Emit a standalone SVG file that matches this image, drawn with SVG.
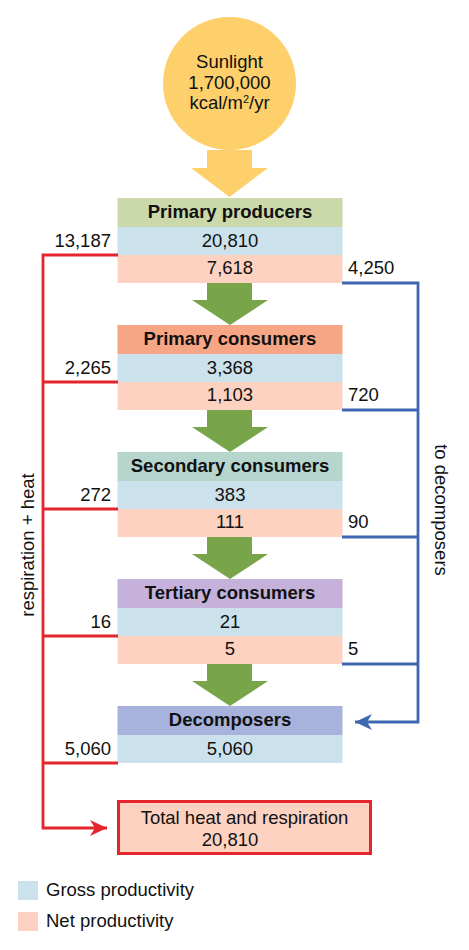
<svg xmlns="http://www.w3.org/2000/svg" width="469" height="950" viewBox="0 0 469 950">
<defs>
<style>
text{font-family:"Liberation Sans",Arial,sans-serif;font-size:18.5px;fill:#111}
.h{font-weight:bold;text-anchor:middle}
.c{text-anchor:middle}
.r{text-anchor:end}
.gross{fill:#cbe2ec}
.net{fill:#fdd2c1}
.red{stroke:#e4252d;stroke-width:2.8;fill:none}
.blue{stroke:#3f67b1;stroke-width:2.8;fill:none}
.green{fill:#78a549}
</style>
<marker id="ab" markerUnits="userSpaceOnUse" markerWidth="20" markerHeight="20" viewBox="-18 -10 20 20" refX="0" refY="0" orient="auto">
<path d="M0,0 L-17,-8 L-12,0 L-17,8 Z" fill="#3f67b1"/>
</marker>
<marker id="ar" markerUnits="userSpaceOnUse" markerWidth="20" markerHeight="20" viewBox="-18 -10 20 20" refX="0" refY="0" orient="auto">
<path d="M0,0 L-17,-8 L-12,0 L-17,8 Z" fill="#e4252d"/>
</marker>
</defs>

<g id="sunlight">
<circle cx="229.5" cy="83.5" r="66.5" fill="#fdd06b"/>
<text class="c" x="229.5" y="68">Sunlight</text>
<text class="c" x="229.5" y="89">1,700,000</text>
<text class="c" x="229.5" y="109">kcal/m<tspan font-size="11" dy="-6">2</tspan><tspan dy="6">/yr</tspan></text>
<path d="M207,150 H252 V168 H268 L229.5,197 L191,168 H207 Z" fill="#fdd06b"/>
</g>

<g id="primary-producers">
<rect x="117.5" y="198" width="225" height="29" fill="#cbd8aa"/>
<rect class="gross" x="117.5" y="227" width="225" height="28"/>
<rect class="net" x="117.5" y="255" width="225" height="28"/>
<text class="h" x="230" y="218">Primary producers</text>
<text class="c" x="230" y="247">20,810</text>
<text class="c" x="230" y="274">7,618</text>
</g>

<g id="primary-consumers">
<rect x="117.5" y="325" width="225" height="29" fill="#f7a685"/>
<rect class="gross" x="117.5" y="354" width="225" height="28"/>
<rect class="net" x="117.5" y="382" width="225" height="28"/>
<text class="h" x="230" y="345">Primary consumers</text>
<text class="c" x="230" y="374">3,368</text>
<text class="c" x="230" y="401">1,103</text>
</g>

<g id="secondary-consumers">
<rect x="117.5" y="452" width="225" height="29" fill="#b5d5cd"/>
<rect class="gross" x="117.5" y="481" width="225" height="28"/>
<rect class="net" x="117.5" y="509" width="225" height="28"/>
<text class="h" x="230" y="472">Secondary consumers</text>
<text class="c" x="230" y="501">383</text>
<text class="c" x="230" y="528">111</text>
</g>

<g id="tertiary-consumers">
<rect x="117.5" y="579" width="225" height="29" fill="#c5b1da"/>
<rect class="gross" x="117.5" y="608" width="225" height="28"/>
<rect class="net" x="117.5" y="636" width="225" height="28"/>
<text class="h" x="230" y="599">Tertiary consumers</text>
<text class="c" x="230" y="628">21</text>
<text class="c" x="230" y="655">5</text>
</g>

<g id="decomposers">
<rect x="117.5" y="706" width="225" height="29" fill="#a7b3dc"/>
<rect class="gross" x="117.5" y="735" width="225" height="28"/>
<text class="h" x="230" y="726">Decomposers</text>
<text class="c" x="230" y="755">5,060</text>
</g>

<g id="total">
<rect x="118.5" y="801.5" width="252" height="52" fill="#fdd2c1" stroke="#e4252d" stroke-width="3"/>
<text class="c" x="244.5" y="824">Total heat and respiration</text>
<text class="c" x="230" y="846">20,810</text>
</g>

<g id="connectors">
<path class="green" d="M207,283 H252 V300 H268 L230,325 L192,300 H207 Z"/>
<path class="green" d="M207,410 H252 V427 H268 L230,452 L192,427 H207 Z"/>
<path class="green" d="M207,537 H252 V554 H268 L230,579 L192,554 H207 Z"/>
<path class="green" d="M207,664 H252 V681 H268 L230,706 L192,681 H207 Z"/>

<path class="red" d="M118,255 H43 V828 H107" marker-end="url(#ar)"/>
<path class="red" d="M43,382 H118 M43,509 H118 M43,636 H118 M43,763 H118"/>

<path class="blue" d="M342,283 H418 V722 H355" marker-end="url(#ab)"/>
<path class="blue" d="M342,410 H418 M342,537 H418 M342,664 H418"/>
</g>

<g id="labels">
<text class="r" x="111" y="247">13,187</text>
<text class="r" x="111" y="374">2,265</text>
<text class="r" x="111" y="501">272</text>
<text class="r" x="111" y="628">16</text>
<text class="r" x="111" y="755">5,060</text>
<text x="348" y="274">4,250</text>
<text x="348" y="401">720</text>
<text x="348" y="528">90</text>
<text x="348" y="655">5</text>
<text class="c" transform="translate(34,545) rotate(-90)">respiration + heat</text>
<text class="c" transform="translate(435,510) rotate(90)">to decomposers</text>
</g>

<g id="legend">
<rect x="18" y="881" width="20" height="19" fill="#cbe2ec"/>
<rect x="18" y="912" width="20" height="19" fill="#fdd2c1"/>
<text x="46" y="896">Gross productivity</text>
<text x="46" y="927">Net productivity</text>
</g>
</svg>
